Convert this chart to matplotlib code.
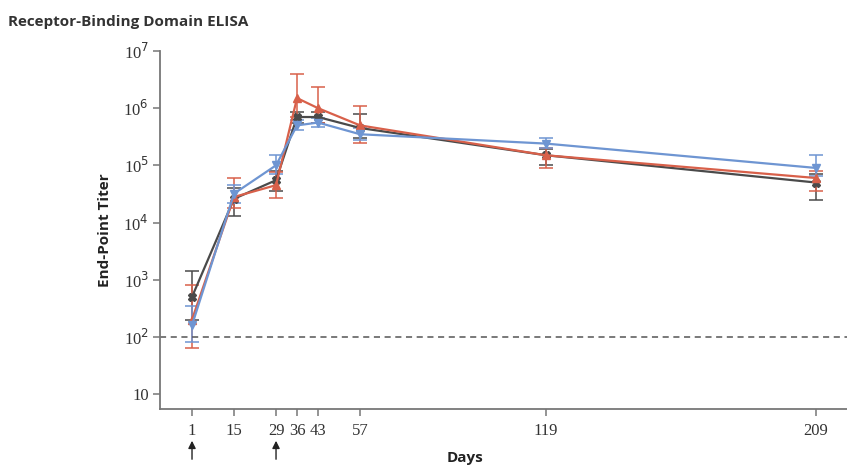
import matplotlib
matplotlib.use("Agg")
import matplotlib.pyplot as plt
import numpy as np

days = [1, 15, 29, 36, 43, 57, 119, 209]
day_labels = ["1", "15", "29", "36", "43", "57", "119", "209"]

# geometric means and error bounds
blue_vals = [160, 32000, 100000, 500000, 560000, 350000, 240000, 90000]
blue_lo   = [80, 22000, 70000, 420000, 470000, 280000, 200000, 65000]
blue_hi   = [350, 45000, 150000, 620000, 680000, 450000, 300000, 150000]

red_vals = [200, 28000, 45000, 1500000, 1000000, 500000, 150000, 60000]
red_lo   = [65, 18000, 27000, 700000, 550000, 250000, 90000, 35000]
red_hi   = [800, 60000, 75000, 4000000, 2300000, 1100000, 200000, 80000]

black_vals = [500, 26000, 55000, 700000, 700000, 450000, 150000, 50000]
black_lo   = [200, 13000, 35000, 550000, 550000, 300000, 100000, 25000]
black_hi   = [1400, 40000, 80000, 850000, 850000, 800000, 190000, 70000]

ytick_vals = [10, 100, 1000, 10000, 100000, 1000000, 10000000]
ytick_labels = ["10", "10$^2$", "10$^3$", "10$^4$", "10$^5$", "10$^6$", "10$^7$"]

fig = plt.figure(figsize=(8.47, 4.66), dpi=100)
ax = fig.add_axes([160/847, 1-409/466, (847-160)/847, (409-51)/466])

series = [
    (black_vals, black_lo, black_hi, "#4a4a4a", "X"),
    (red_vals, red_lo, red_hi, "#d8604a", "^"),
    (blue_vals, blue_lo, blue_hi, "#6e95d2", "v"),
]
for vals, lo, hi, col, mk in series:
    v = np.array(vals, float)
    yerr = np.vstack([v - np.array(lo), np.array(hi) - v])
    ax.errorbar(days, v, yerr=yerr, color=col, lw=1.6, marker=mk, ms=6,
                capsize=5, elinewidth=1.1, capthick=1.1, clip_on=False)

ax.axhline(100, color="#555555", ls=(0, (4, 3)), lw=1.1)

ax.set_yscale("log")
ax.set_ylim(10**0.738, 1e7)
ax.set_xlim(-9.67, 219.3)
ax.set_yticks(ytick_vals)
ax.set_yticklabels(ytick_labels)
ax.yaxis.set_minor_locator(matplotlib.ticker.NullLocator())
ax.set_xticks(days)
ax.set_xticklabels(day_labels)

for s in ["top", "right"]:
    ax.spines[s].set_visible(False)
for s in ["left", "bottom"]:
    ax.spines[s].set_color("#777777")
    ax.spines[s].set_linewidth(1.3)
ax.tick_params(axis="both", colors="#777777", length=5, width=1.1, labelcolor="#333333", pad=3)
ax.tick_params(axis="x", pad=5)
for lab in ax.get_xticklabels() + ax.get_yticklabels():
    lab.set_family("Liberation Serif")
    lab.set_fontsize(12)

ax.set_ylabel("End-Point Titer", fontsize=11, fontweight="bold", family="Open Sans", color="#222222", labelpad=8)
fig.text(465/847, 1-458/466, "Days", fontsize=11, fontweight="bold", family="Open Sans",
         color="#222222", ha="center", va="center")
fig.text(8/847, 1-22/466, "Receptor-Binding Domain ELISA", fontsize=11, fontweight="bold",
         family="Open Sans", color="#333333", ha="left", va="center")

# arrows under dose days
for d in [1, 29]:
    ax.annotate("", xy=(d, -(438-409)/358), xytext=(d, -(462-409)/358), xycoords=("data", "axes fraction"),
                textcoords=("data", "axes fraction"),
                arrowprops=dict(arrowstyle="-|>", color="#222222", lw=1.0, mutation_scale=11))

fig.savefig("out.png", dpi=100)
